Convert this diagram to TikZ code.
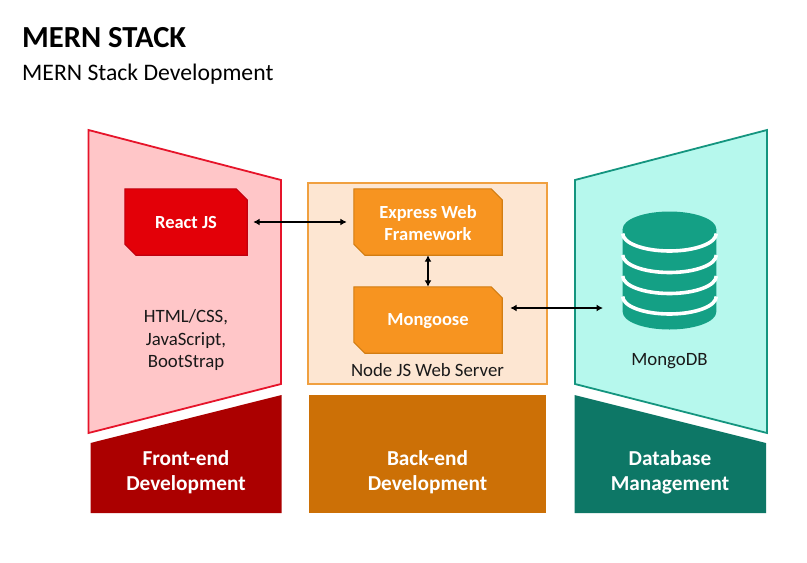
\documentclass[tikz,border=0pt]{standalone}
\usepackage{fontspec}
\setmainfont{Carlito}
\usetikzlibrary{arrows.meta,backgrounds}
\definecolor{redfill}{HTML}{FFC6C8}
\definecolor{redline}{HTML}{E6142A}
\definecolor{redbox}{HTML}{E30008}
\definecolor{redboxline}{HTML}{C00010}
\definecolor{reddark}{HTML}{AB0000}
\definecolor{orfill}{HTML}{FDE6D2}
\definecolor{orline}{HTML}{F0A040}
\definecolor{orbox}{HTML}{F79420}
\definecolor{orboxline}{HTML}{D27D12}
\definecolor{ordark}{HTML}{CC7006}
\definecolor{tealfill}{HTML}{B6F8ED}
\definecolor{tealline}{HTML}{14957F}
\definecolor{tealicon}{HTML}{14A085}
\definecolor{tealdark}{HTML}{0D7766}
\newcommand{\chamshape}[3]{\filldraw[line width=1.1pt,draw=#2,fill=#3,line join=miter]
  (#1.north west) -- ([xshift=-11pt]#1.north east) -- ([yshift=-11pt]#1.north east) -- (#1.south east)
  -- ([xshift=11pt]#1.south west) -- ([yshift=11pt]#1.south west) -- cycle;}
\tikzset{
  x=1pt,y=-1pt,
  panel/.style={line width=1.8pt,line join=miter},
  chambox/.style={rectangle,minimum width=122pt,minimum height=66pt,inner sep=0pt,
    text=white,align=center,font=\fontsize{18.5}{22}\selectfont\bfseries},
  footer/.style={text=white,align=center,font=\fontsize{21.3}{25}\selectfont\bfseries},
  note/.style={text=black!90,align=center,font=\fontsize{18.8}{22.5}\selectfont},
  link/.style={{Latex[length=6.5pt,width=7pt]}-{Latex[length=6.5pt,width=7pt]},line width=1.7pt,black},
  gap/.style={white,line width=3.6pt,line cap=butt}
}
\begin{document}
\begin{tikzpicture}
\useasboundingbox (0,0) rectangle (807,563);
% titles
\node[anchor=west,inner sep=0pt,font=\fontsize{30.6}{34}\selectfont\bfseries] (title) at (22,37.5) {MERN STACK};
\node[anchor=west,inner sep=0pt,font=\fontsize{23.7}{28}\selectfont] (subtitle) at (22,74.5) {MERN Stack Development};
% footers' text and box text live on the main layer
\node[footer] (fe) at (186,472.5) {Front-end\\Development};
\node[footer] (be) at (427.5,472.5) {Back-end\\Development};
\node[footer] (db) at (670,472.5) {Database\\Management};
\node[chambox] (react) at (186,222) {React JS};
\node[chambox,minimum width=148pt] (express) at (428,222) {\raisebox{-3pt}[\height][\depth]{\begin{tabular}{@{}c@{}}Express Web\\Framework\end{tabular}}};
\node[chambox,minimum width=148pt] (mongoose) at (428,320) {\raisebox{-1pt}[\height][\depth]{Mongoose}};
\begin{pgfonlayer}{background}
\fill[white] (0,0) rectangle (807,563);
% panels
\filldraw[panel,draw=redline,fill=redfill] (88.5,130) -- (281,180) -- (281,384) -- (88.5,433) -- cycle;
\filldraw[panel,draw=orline,fill=orfill] (308,183) rectangle (547,384);
\filldraw[panel,draw=tealline,fill=tealfill] (575,180) -- (767,130) -- (767,433) -- (575,384) -- cycle;
% footers
\fill[reddark] (90.5,443) -- (281.5,395) -- (281.5,513) -- (90.5,513) -- cycle;
\fill[ordark] (308.5,395) rectangle (546,513);
\fill[tealdark] (574.5,395) -- (766,443) -- (766,513) -- (574.5,513) -- cycle;
% box outlines
\chamshape{react}{redboxline}{redbox}
\chamshape{express}{orboxline}{orbox}
\chamshape{mongoose}{orboxline}{orbox}
\end{pgfonlayer}
% texts
\node[note] (front) at (186,340) {HTML/CSS,\\JavaScript,\\BootStrap};
\node[note] (server) at (427.5,370) {Node JS Web Server};
\node[note] (mongodb) at (669.5,361) {MongoDB};
% database icon
\fill[tealicon] (622.7,229) -- (622.7,312) arc[start angle=180,end angle=360,x radius=46.8pt,y radius=17.5pt] -- (716.3,229) -- cycle;
\fill[tealicon] (669.5,229) ellipse[x radius=46.8pt,y radius=17.5pt];
\foreach \yy in {233.5,255,276,296.5}{
  \draw[gap] (622.7,\yy) arc[start angle=180,end angle=360,x radius=46.8pt,y radius=17.5pt];
}
% connectors
\coordinate (dbport) at (603,308);
\draw[link,shorten <=6pt,shorten >=7pt] (react.east) -- (express.west);
\draw[link] (express.south) -- (mongoose.north);
\draw[link,shorten <=8pt] ([yshift=12pt]mongoose.east) -- (dbport);
\end{tikzpicture}
\end{document}
